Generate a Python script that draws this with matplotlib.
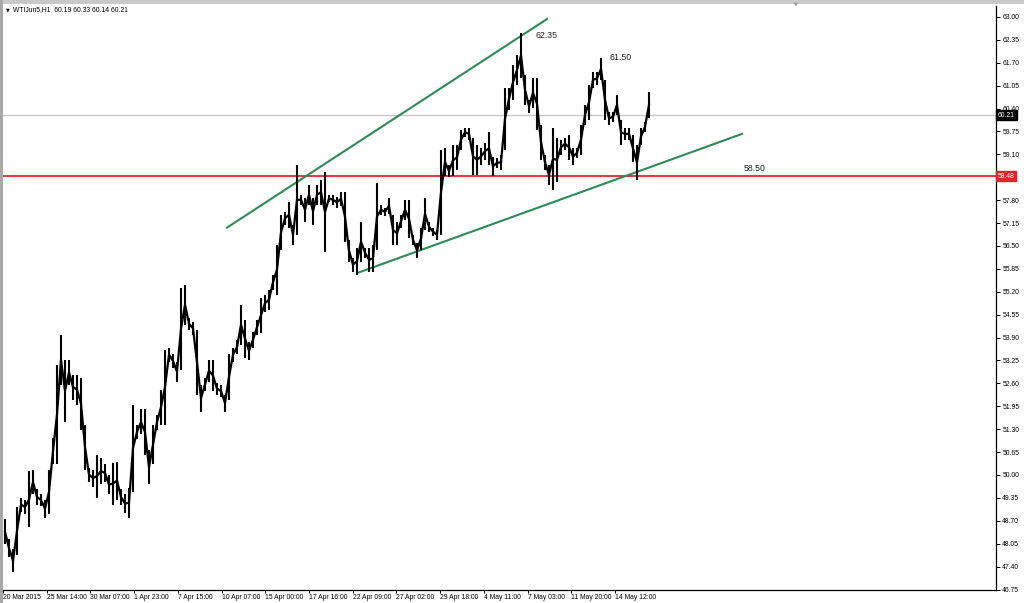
import numpy as np
import matplotlib
matplotlib.use("Agg")
import matplotlib.pyplot as plt
from matplotlib.patches import Rectangle
import matplotlib.transforms as mtransforms

# ---------------- data ----------------
symbol = "WTIJun5,H1"
last_ohlc = [60.19, 60.33, 60.14, 60.21]

# high / low of consecutive price blocks (each block ~ 6 hourly bars)
high = [48.74, 48.17, 47.89, 49.08, 49.36, 49.30, 50.10, 50.15, 49.59, 49.45,
        49.30, 50.15, 51.06, 53.13, 53.98, 53.27, 53.27, 52.85, 52.85, 52.76,
        51.43, 50.21, 50.15, 50.58, 50.49, 50.30, 50.01, 50.35, 50.38, 49.59,
        49.45, 49.64, 52.00, 51.43, 51.86, 51.86, 50.72, 51.43, 51.71, 52.42,
        53.56, 53.61, 53.42, 53.22, 55.31, 55.40, 54.46, 54.35, 54.12, 52.56,
        52.76, 53.27, 53.27, 52.62, 52.56, 52.28, 53.42, 53.61, 53.84, 54.83,
        54.41, 53.78, 54.07, 54.41, 55.03, 55.12, 55.26, 55.68, 56.53, 57.38,
        57.47, 57.75, 57.10, 58.80, 57.95, 57.87, 58.24, 57.87, 58.24, 58.38,
        58.60, 57.95, 57.95, 57.90, 58.04, 58.04, 56.68, 56.17, 56.45, 57.19,
        56.45, 56.45, 56.53, 58.29, 57.67, 57.58, 57.87, 57.38, 57.19, 57.38,
        57.81, 57.81, 56.82, 56.59, 57.02, 57.87, 57.19, 57.02, 56.96, 59.23,
        59.28, 58.80, 59.37, 59.37, 59.80, 59.85, 59.85, 59.57, 59.37, 59.28,
        59.43, 59.74, 59.03, 59.00, 59.09, 60.99, 60.99, 61.64, 61.92, 62.55,
        61.36, 60.65, 61.27, 61.27, 59.94, 59.09, 58.80, 59.85, 59.57, 59.51,
        59.57, 59.65, 59.28, 59.28, 59.94, 60.50, 61.07, 61.44, 61.44, 61.84,
        61.21, 60.31, 60.31, 60.79, 60.08, 59.85, 59.85, 59.65, 59.37, 59.85,
        60.02, 60.88]
low = [48.03, 47.68, 47.24, 47.74, 48.96, 48.88, 48.51, 49.45, 49.16, 49.13,
       48.79, 48.88, 50.30, 50.30, 52.56, 51.51, 52.56, 52.14, 52.00, 51.29,
       50.15, 49.81, 49.67, 49.36, 49.73, 49.81, 49.45, 49.16, 49.30, 49.16,
       48.93, 48.79, 49.53, 51.01, 51.15, 50.58, 49.73, 50.30, 51.29, 51.43,
       51.43, 53.22, 53.05, 52.65, 52.99, 54.27, 54.12, 53.98, 52.28, 51.80,
       52.37, 52.65, 52.37, 52.28, 52.20, 51.80, 52.14, 53.22, 53.42, 53.70,
       53.33, 53.27, 53.61, 53.98, 54.04, 54.63, 54.69, 55.26, 55.12, 56.39,
       57.10, 57.02, 56.53, 56.82, 57.67, 57.19, 57.67, 57.10, 57.67, 57.67,
       56.33, 57.75, 57.67, 57.58, 57.64, 56.62, 56.05, 55.77, 55.68, 56.05,
       56.17, 55.77, 55.77, 56.39, 57.38, 57.36, 57.41, 56.53, 56.53, 57.02,
       57.24, 56.73, 56.53, 56.17, 56.39, 56.96, 56.90, 56.79, 56.68, 56.82,
       58.49, 58.46, 58.49, 58.66, 59.23, 59.60, 59.51, 58.52, 58.52, 58.80,
       58.95, 58.80, 58.49, 58.72, 58.66, 59.23, 60.36, 60.65, 61.07, 61.27,
       60.50, 60.28, 60.42, 59.80, 58.95, 58.66, 58.24, 58.09, 58.32, 59.09,
       59.23, 58.95, 58.80, 59.00, 59.09, 59.94, 60.08, 60.99, 61.07, 61.21,
       60.08, 59.94, 60.02, 60.22, 59.37, 59.51, 59.51, 58.89, 58.38, 59.37,
       59.74, 60.14]

date_labels = ["20 Mar 2015", "25 Mar 14:00", "30 Mar 07:00", "1 Apr 23:00",
               "7 Apr 15:00", "10 Apr 07:00", "15 Apr 00:00", "17 Apr 16:00",
               "22 Apr 09:00", "27 Apr 02:00", "29 Apr 18:00", "4 May 11:00",
               "7 May 03:00", "11 May 20:00", "14 May 12:00"]
blocks_per_label = 10.93

price_min, price_max, price_step = 46.75, 63.00, 0.65
current_price = 60.21
support_price = 58.48

upper_trend_x = [55.5, 135.5]
upper_trend_y = [57.02, 62.94]
lower_trend_x = [88.25, 184.25]
lower_trend_y = [55.74, 59.68]

notes_text = ["62.35", "61.50", "58.50"]
notes_x = [132.5, 151.0, 184.75]
notes_y = [62.46, 61.84, 58.69]

# ---------------- figure ----------------
W, H = 1024, 603
fig = plt.figure(figsize=(W / 100, H / 100), dpi=100, facecolor="white")
ax = fig.add_axes([3 / W, 13.5 / H, 993 / W, 583.5 / H])
ax.set_facecolor("white")

x = np.arange(len(high))
hi = np.array(high)
lo = np.array(low)
mid = (hi + lo) / 2
ax.vlines(x, lo, hi, color="black", linewidth=1.5, capstyle="butt", zorder=3)
ax.plot(x, mid, color="black", linewidth=1.6, solid_joinstyle="miter", zorder=3)

ax.set_xlim(-0.5, 247.75)
ax.set_ylim(price_min, 63.31)

# horizontal lines
ax.axhline(current_price, color="#c8c8c8", linewidth=1.0, zorder=0)
ax.axhline(support_price, color="#e0262b", linewidth=1.3, zorder=1)

# trend lines
ax.plot(upper_trend_x, upper_trend_y, color="#2e8b57", linewidth=1.5, zorder=2)
ax.plot(lower_trend_x, lower_trend_y, color="#2e8b57", linewidth=1.5, zorder=2)

for t, xx, yy in zip(notes_text, notes_x, notes_y):
    ax.text(xx, yy, t, fontsize=6.3, family="Liberation Sans", color="#222222",
            ha="left", va="center")

# axes styling
for s in ["left", "top"]:
    ax.spines[s].set_visible(False)
for s in ["right", "bottom"]:
    ax.spines[s].set_color("black")
    ax.spines[s].set_linewidth(0.9)

ax.yaxis.tick_right()
yt = np.round(np.arange(price_min, price_max + 1e-6, price_step), 2)
ax.set_yticks(yt)
# the tick hidden behind the red support price box is not labelled
ax.set_yticklabels(["" if abs(v - support_price) < 0.1 else f"{v:.2f}"
                    for v in yt])
ax.tick_params(axis="y", length=3, width=0.7, pad=1.5, labelsize=4.9,
               colors="black")
for lab in ax.get_yticklabels():
    lab.set_family("Liberation Sans")

xt = np.arange(len(date_labels)) * blocks_per_label - 0.5
ax.set_xticks(xt)
ax.set_xticklabels(date_labels, ha="left")
ax.tick_params(axis="x", length=2, width=0.7, pad=1.5, labelsize=4.9,
               colors="black")
for lab in ax.get_xticklabels():
    lab.set_family("Liberation Sans")

# price boxes on the right axis
trans = mtransforms.blended_transform_factory(ax.transAxes, ax.transData)
ax.text(1.002, current_price, f"{current_price:.2f}", transform=trans,
        fontsize=4.9, family="Liberation Sans", color="white", ha="left",
        va="center", bbox=dict(boxstyle="square,pad=0.25", fc="black",
                               ec="black"), clip_on=False, zorder=5)
ax.text(1.002, support_price, f"{support_price:.2f}", transform=trans,
        fontsize=4.9, family="Liberation Sans", color="white", ha="left",
        va="center", bbox=dict(boxstyle="square,pad=0.25", fc="#e0262b",
                               ec="#e0262b"), clip_on=False, zorder=5)

# header
fig.text(6 / W, 1 - 10 / H, "\u25bc", fontsize=3.5, color="black",
         va="center", ha="left")
fig.text(13 / W, 1 - 10 / H,
         f"{symbol}  " + " ".join(f"{v:.2f}" for v in last_ohlc),
         fontsize=4.9, family="Liberation Sans", color="black",
         va="center", ha="left")

# window borders (MT4 frame)
fig.patches.append(Rectangle((0, 1 - 4 / H), 1, 4 / H, transform=fig.transFigure,
                             facecolor="#c9c9c9", edgecolor="none"))
fig.patches.append(Rectangle((0, 0), 3 / W, 1, transform=fig.transFigure,
                             facecolor="#a8a8a8", edgecolor="none"))
fig.text(796 / W, 1 - 4 / H, "\u25bc", fontsize=3.5, color="#909090",
         va="center", ha="center")

fig.savefig("out.png", dpi=100, facecolor="white")
